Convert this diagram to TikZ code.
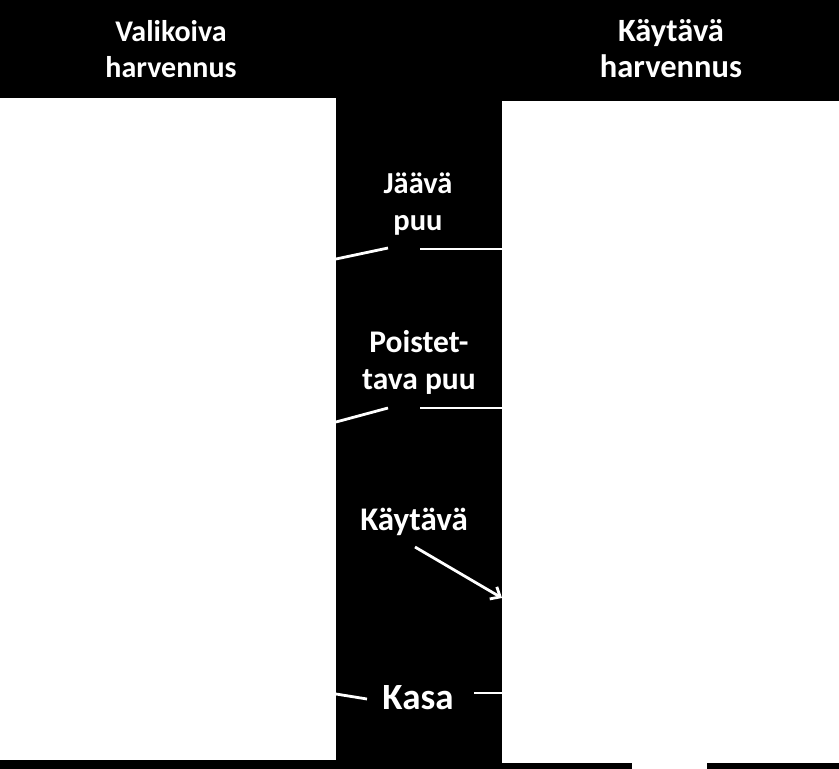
\documentclass[tikz,border=0pt]{standalone}
\usepackage{fontspec}
\setmainfont{Carlito}
\usetikzlibrary{arrows.meta}
\begin{document}
\begin{tikzpicture}[x=1pt,y=-1pt,
  lbl/.style={text=white,font=\bfseries\fontsize{30.5}{37}\selectfont,align=center,inner sep=0pt},
  title/.style={text=white,font=\bfseries\fontsize{30}{36}\selectfont,align=center,inner sep=0pt},
  conn/.style={draw=white,line width=2.8pt}]
\fill[black] (0,0) rectangle (839,769);
\useasboundingbox (0,0) rectangle (839,769);
\fill[white] (0,98) rectangle (336,760);
\fill[white] (502,101) rectangle (839,763);
\fill[white] (632,763) rectangle (707,769);
\node[title] (t1) at (171,49) {Valikoiva\\harvennus};
\node[title,font=\bfseries\fontsize{32.5}{36}\selectfont] (t2) at (671,49) {Käytävä\\harvennus};
\node[lbl] (j) at (418,204) {Jäävä\\puu};
\node[lbl,font=\bfseries\fontsize{31.5}{37}\selectfont] (p) at (419,362) {Poistet-\\tava puu};
\node[lbl,font=\bfseries\fontsize{33}{38}\selectfont] (k) at (414,522) {Käytävä};
\node[lbl,font=\bfseries\fontsize{37}{40}\selectfont] (ka) at (418,698) {Kasa};
\coordinate (jl1) at (336,259); \coordinate (jl2) at (388,248);
\coordinate (jr1) at (420,249); \coordinate (jr2) at (502,249);
\coordinate (pl1) at (336,422); \coordinate (pl2) at (388,408);
\coordinate (pr1) at (420,408); \coordinate (pr2) at (502,408);
\coordinate (ks) at (415,547); \coordinate (ke) at (502,598);
\coordinate (kl1) at (336,694); \coordinate (kl2) at (367,699);
\coordinate (kr1) at (474,693); \coordinate (kr2) at (502,693);
\draw[conn] (jl1) -- (jl2);
\draw[conn] (jr1) -- (jr2);
\draw[conn] (pl1) -- (pl2);
\draw[conn] (pr1) -- (pr2);
\draw[conn,-{Straight Barb[length=8pt,width=14pt]}] (ks) -- (ke);
\draw[conn] (kl1) -- (kl2);
\draw[conn] (kr1) -- (kr2);
\end{tikzpicture}
\end{document}
